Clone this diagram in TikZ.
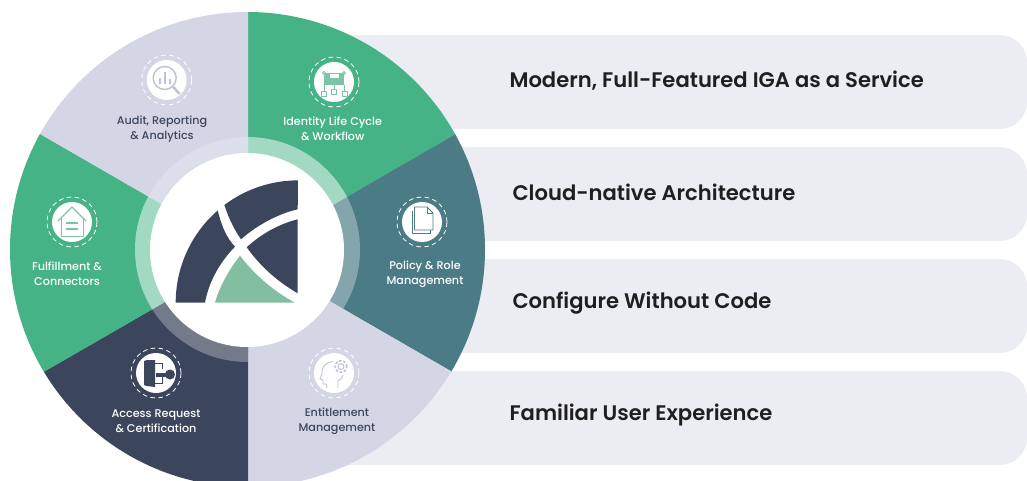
\documentclass[tikz,border=0pt]{standalone}
\usepackage{fontspec}
\setmainfont{Poppins}
\newfontfamily\mediumfont{Poppins}[UprightFont=* Medium]
\newfontfamily\headfont{Poppins}[UprightFont=* SemiBold]
\definecolor{igagreen}{HTML}{46B387}
\definecolor{igateal}{HTML}{4B7B85}
\definecolor{iganavy}{HTML}{3B465C}
\definecolor{igalav}{HTML}{D4D6E6}
\definecolor{igabar}{HTML}{ECEDF3}
\definecolor{igamint}{HTML}{82BFA0}
\definecolor{igaline}{HTML}{BDC1D8}
\definecolor{igaminti}{HTML}{7CC4A6}
\begin{document}
\begin{tikzpicture}[x=1pt,y=1pt,
  barbox/.style={fill=igabar,rounded corners=27pt},
  bartext/.style={anchor=west,font=\headfont\fontsize{21.1}{24}\selectfont,text=black!88},
  wedgetext/.style={align=center,font=\mediumfont\fontsize{11.2}{15}\selectfont},
  iconbg/.style={circle,fill=white,minimum size=40pt,inner sep=0pt},
  iconring/.style={draw=white,line width=0.8pt,dash pattern=on 4.6pt off 3.4pt},
  ringpart/.style={fill=white,fill opacity=#1},
  iconline/.style={line width=0.9pt,line join=round}]
\clip (0,-481) rectangle (1027,0);
% bars behind the wheel
\fill[barbox] (300,-35) rectangle (1027,-129);
\fill[barbox] (300,-147) rectangle (1027,-241);
\fill[barbox] (300,-259) rectangle (1027,-353);
\fill[barbox] (300,-371) rectangle (1027,-465);
\node[bartext] (bar1) at (506,-80.5) {Modern, Full-Featured IGA as a Service};
\node[bartext] (bar2) at (509,-192) {Cloud-native Architecture};
\node[bartext] (bar3) at (509,-303.5) {Configure Without Code};
\node[bartext] (bar4) at (506,-415.5) {Familiar User Experience};
% wheel, the spokes meet a little below the middle of the rim
\coordinate (hub) at (248,-254);
\coordinate (rimmid) at (247.5,-249.5);
\begin{scope}
\clip (rimmid) circle (237.5);
\fill[igagreen] (hub) -- ++(90:300) -- ++(0:300) -- ++(-90:127) -- cycle;
\fill[igateal] (hub) -- ++(30:300) -- ++(-90:300) -- cycle;
\fill[igalav] (hub) -- ++(-30:300) -- ++(-90:300) -- ++(180:260) -- cycle;
\fill[iganavy] (hub) -- ++(-90:300) -- ++(180:300) -- ++(90:127) -- cycle;
\fill[igagreen] (hub) -- ++(-150:300) -- ++(90:300) -- cycle;
\fill[igalav] (hub) -- ++(150:300) -- ++(90:150) -- ++(0:260) -- cycle;
\end{scope}
% ring round the hub
\begin{scope}
\clip (rimmid) circle (112.5);
\fill[ringpart=0.5] (hub) -- ++(90:300) -- ++(0:300) -- ++(-90:127) -- cycle;
\fill[ringpart=0.32] (hub) -- ++(30:300) -- ++(-90:300) -- cycle;
\fill[ringpart=0.29] (hub) -- ++(-90:300) -- ++(180:300) -- ++(90:127) -- cycle;
\fill[ringpart=0.5] (hub) -- ++(-150:300) -- ++(90:300) -- cycle;
\fill[ringpart=0.2] (hub) -- ++(150:300) -- ++(90:150) -- ++(0:260) -- cycle;
\end{scope}
\node[circle,fill=white,minimum size=194pt,inner sep=0pt] (hubdisc) at (247,-250) {};
% logo
\fill[iganavy] (175.7,-302.7) arc[start angle=180,end angle=131,radius=122.3]
  .. controls (222,-228) and (227,-238) .. (235,-246.7)
  .. controls (220,-262) and (209,-281) .. (205,-302.7) -- cycle;
\fill[iganavy] (224.4,-205) arc[start angle=127,end angle=90,radius=122.3] -- (297.7,-209.3)
  .. controls (277,-214) and (256,-226) .. (241,-239.3)
  .. controls (233,-228) and (228,-216) .. (224.4,-205) -- cycle;
\fill[iganavy] (297.7,-219.3) .. controls (279,-224) and (261,-234) .. (246.7,-247.3)
  .. controls (260,-266) and (278,-282) .. (297.7,-293.3) -- cycle;
\fill[igamint] (240,-255.7) .. controls (254,-274) and (273,-291) .. (295,-302.7)
  -- (215,-302.7) .. controls (219,-288) and (228,-271) .. (240,-255.7) -- cycle;
% icons
\node[iconbg] (auditicon) at (166.7,-80) {};
\node[iconbg] (lifeicon) at (334,-82) {};
\node[iconbg] (policyicon) at (422,-222) {};
\node[iconbg] (entitleicon) at (334,-373) {};
\node[iconbg] (accessicon) at (156,-373) {};
\node[iconbg] (fulfilicon) at (72,-222) {};
\draw[iconring] (auditicon) circle (25);
\draw[iconring] (lifeicon) circle (25);
\draw[iconring] (policyicon) circle (25);
\draw[iconring] (entitleicon) circle (25);
\draw[iconring] (accessicon) circle (25);
\draw[iconring] (fulfilicon) circle (25);
% audit glyph
\begin{scope}[shift={(auditicon)},iconline,draw=igaline]
\draw[line width=1.4pt] (-2,2) circle (11.5);
\draw[line width=2.4pt] (6.5,-7) -- (13,-14);
\draw[line width=1.6pt] (-7,-4) -- (-7,2) (-2,-4) -- (-2,8) (3,-4) -- (3,1);
\end{scope}
% life cycle glyph
\begin{scope}[shift={(lifeicon)},iconline,draw=igaminti]
\fill[igaminti] (-10,9) rectangle (10,-3);
\fill[white] (-5,9) rectangle (5,4);
\draw (-5,9) rectangle (5,4);
\draw[fill=white] (-10,9) circle (1.5);
\draw[fill=white] (10,9) circle (1.5);
\draw (0,-3) -- (0,-7);
\draw (-10,-3) -- (-10,-9);
\draw (10,-3) -- (10,-9);
\draw[fill=white] (-13,-9) rectangle (-8,-14);
\draw[fill=white] (-2.5,-7) rectangle (2.5,-12);
\draw[fill=white] (8,-9) rectangle (13,-14);
\end{scope}
% policy glyph
\begin{scope}[shift={(policyicon)},iconline,draw=igateal]
\draw (-10,11) -- (-10,-11) -- (8,-11) -- (8,-8);
\draw[fill=white] (-7.5,15) -- (5,15) -- (11,9) -- (11,-8) -- (-7.5,-8) -- cycle;
\draw (5,15) -- (5,9) -- (11,9);
\end{scope}
% entitlement glyph
\begin{scope}[shift={(entitleicon)},iconline,draw=igaline]
\draw (-7,-15) -- (-8,-11) -- (-11,-11) -- (-11,-7) -- (-14,-6)
  -- (-12,-1) .. controls (-13,6) and (-8,11) .. (-1,11.5);
\draw (4,-15) -- (4,-8) .. controls (7,-7) and (9,-4) .. (9,-2);
\draw (7,6.5) circle (3);
\draw[dash pattern=on 2.5pt off 1.8pt,line width=1.7pt] (7,6.5) circle (5.8);
\end{scope}
% access glyph
\begin{scope}[shift={(accessicon)}]
\fill[iganavy] (-12,12) -- (-9,13) -- (-1,13) -- (-1,-14) -- (-9,-13) -- (-12,-12) -- cycle;
\draw[iganavy,line width=0.9pt] (-1,10) -- (6,10) -- (6,4) (-1,-10) -- (6,-10) -- (6,-4);
\fill[iganavy] (0,-3.5) rectangle (10,0.5);
\fill[iganavy] (14,-1.5) circle (5);
\end{scope}
% fulfilment glyph
\begin{scope}[shift={(fulfilicon)},iconline,draw=igaminti]
\draw[line width=1.3pt] (-14,1) -- (0,15) -- (14,1);
\draw (-11,4) -- (-11,-14) -- (11,-14) -- (11,4);
\draw[line width=1.5pt] (-6,-1) -- (6,-1) (-6,-7) -- (6,-7);
\end{scope}
% labels
\node[wedgetext,text=iganavy] (auditlabel) at (162,-129) {Audit, Reporting\\\& Analytics};
\node[wedgetext,text=white] (lifelabel) at (332.7,-129) {Identity Life Cycle\\\& Workflow};
\node[wedgetext,text=white] (policylabel) at (425,-274) {Policy \& Role\\Management};
\node[wedgetext,text=iganavy] (entitlelabel) at (337,-421) {Entitlement\\Management};
\node[wedgetext,text=white] (accesslabel) at (156,-421) {Access Request\\\& Certification};
\node[wedgetext,text=white] (fulfillabel) at (67,-274) {Fulfillment \&\\Connectors};
\end{tikzpicture}
\end{document}
